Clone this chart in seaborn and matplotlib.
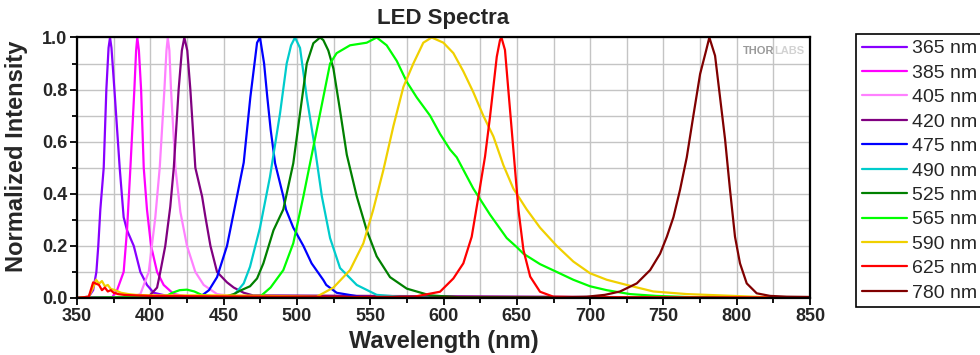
import matplotlib
matplotlib.use("Agg")
import matplotlib.pyplot as plt
from matplotlib.ticker import MultipleLocator, FormatStrFormatter
import numpy as np
import pandas as pd
import seaborn as sns

# ---------------- data ----------------
led_labels = ["365 nm", "385 nm", "405 nm", "420 nm", "475 nm", "490 nm",
              "525 nm", "565 nm", "590 nm", "625 nm", "780 nm"]
led_colors = ["#8800FF", "#FF00FF", "#FF80FF", "#800080", "#0000FF", "#00CCCC",
              "#008000", "#00FF00", "#F0D000", "#FF0000", "#800000"]

wl_365 = [350, 358, 361, 363.2, 364.5, 365.9, 368.2, 370, 371.5, 372.5, 373.5, 375.5, 379.1, 381.8, 384.1, 388.7, 393.2, 397.7, 402.3, 410, 430, 850]
in_365 = [0, 0.005, 0.03, 0.1, 0.2, 0.34, 0.5, 0.8, 0.96, 1.0, 0.96, 0.8, 0.5, 0.31, 0.26, 0.2, 0.1, 0.05, 0.02, 0.01, 0.003, 0]

wl_385 = [350, 374, 377.3, 381.8, 384.1, 386.4, 389.1, 390.3, 391.1, 392.2, 393.7, 395.5, 397.7, 400.5, 404.6, 409.1, 416, 425, 440, 850]
in_385 = [0, 0.003, 0.03, 0.1, 0.26, 0.5, 0.8, 0.95, 1.0, 0.95, 0.8, 0.5, 0.34, 0.2, 0.1, 0.05, 0.015, 0.006, 0.003, 0]

wl_405 = [350, 388, 393.2, 398.9, 403.4, 406.4, 409.6, 411, 411.9, 413, 414.1, 417.1, 420.5, 425, 430.7, 436.4, 445.5, 455, 850]
in_405 = [0, 0.005, 0.015, 0.1, 0.31, 0.5, 0.8, 0.95, 1.0, 0.95, 0.8, 0.5, 0.33, 0.2, 0.1, 0.05, 0.015, 0.008, 0]

wl_420 = [350, 395, 398.9, 404.6, 406.8, 410.2, 413.6, 416, 419.3, 421.5, 423.2, 425.2, 427.3, 430.7, 435.3, 437.6, 441, 445.5, 452.3, 456.9, 463.7, 470, 850]
in_420 = [0, 0.002, 0.005, 0.04, 0.1, 0.2, 0.35, 0.5, 0.8, 0.95, 1.0, 0.95, 0.8, 0.5, 0.39, 0.31, 0.2, 0.1, 0.06, 0.04, 0.02, 0.01, 0]

wl_475 = [350, 430, 434.1, 440, 445.5, 452.3, 459.1, 463.7, 468.2, 472.8, 474.8, 477.6, 479.8, 482.1, 485.1, 490.7, 492.5, 497.5, 504.4, 510, 518, 520, 527.1, 543, 560, 850]
in_475 = [0, 0.002, 0.005, 0.03, 0.08, 0.2, 0.39, 0.52, 0.77, 0.98, 1.0, 0.9, 0.77, 0.645, 0.517, 0.39, 0.34, 0.27, 0.2, 0.133, 0.069, 0.05, 0.02, 0.005, 0.002, 0]

wl_490 = [350, 445, 456.9, 463.7, 468, 474.8, 481.6, 488.5, 493, 496, 498.7, 502.1, 506.7, 512.4, 517, 522.6, 529.4, 540.8, 554.4, 570, 600, 850]
in_490 = [0, 0.002, 0.01, 0.056, 0.12, 0.27, 0.465, 0.71, 0.9, 0.97, 1.0, 0.96, 0.77, 0.57, 0.39, 0.23, 0.115, 0.05, 0.012, 0.005, 0.002, 0]

wl_525 = [350, 450, 456.9, 462, 468, 472.8, 477.1, 484, 490.7, 497.5, 502.1, 506.7, 511.2, 515.8, 518, 521.4, 524.9, 529.4, 534, 540.8, 547.6, 554.4, 563.5, 574.9, 590.8, 610, 850]
in_525 = [0, 0.003, 0.015, 0.03, 0.045, 0.075, 0.133, 0.26, 0.34, 0.517, 0.709, 0.9, 0.978, 1.0, 0.99, 0.95, 0.88, 0.72, 0.55, 0.39, 0.26, 0.16, 0.08, 0.036, 0.01, 0.003, 0]

wl_565 = [350, 410, 415, 420, 425, 430, 435, 445, 474.8, 482, 490.7, 497.5, 504.4, 511.2, 516.9, 522.6, 527.1, 536.2, 547.6, 554.4, 561.2, 568.1, 574.9, 581.7, 590.8, 597.6, 604.4, 609, 620.3, 631.7, 643.1, 650, 654.5, 665.8, 677.2, 688.5, 699.9, 711.3, 727.2, 745, 770, 850]
in_565 = [0, 0.005, 0.02, 0.03, 0.032, 0.025, 0.012, 0.005, 0.005, 0.04, 0.107, 0.21, 0.39, 0.58, 0.74, 0.9, 0.94, 0.97, 0.98, 1.0, 0.97, 0.91, 0.83, 0.77, 0.70, 0.63, 0.57, 0.54, 0.42, 0.32, 0.23, 0.195, 0.17, 0.13, 0.10, 0.07, 0.045, 0.03, 0.015, 0.008, 0.003, 0]

wl_590 = [350, 358, 361, 363, 365, 367, 369, 371, 373, 376, 380, 385, 390, 400, 420, 450, 480, 500, 513.5, 524.9, 536.2, 545.3, 552.1, 558.9, 565.8, 572.6, 579.4, 586.2, 591.9, 599.9, 606.7, 613.5, 620.3, 627.1, 634, 640.8, 647.6, 656.7, 665.8, 677.2, 688.5, 699.9, 711.3, 725, 743.1, 765.9, 788.6, 811.3, 830, 850]
in_590 = [0, 0.005, 0.04, 0.07, 0.055, 0.065, 0.045, 0.05, 0.035, 0.03, 0.02, 0.015, 0.012, 0.01, 0.01, 0.01, 0.008, 0.006, 0.005, 0.04, 0.107, 0.21, 0.34, 0.49, 0.66, 0.81, 0.90, 0.98, 1.0, 0.98, 0.94, 0.87, 0.79, 0.70, 0.62, 0.51, 0.42, 0.34, 0.27, 0.20, 0.14, 0.095, 0.07, 0.05, 0.025, 0.015, 0.01, 0.005, 0.002, 0]

wl_625 = [350, 358, 361, 363, 365, 367, 369, 371, 373, 375, 378, 382, 390, 400, 450, 500, 550, 580, 597.6, 606.7, 613.5, 619.2, 623.8, 628.3, 631.7, 634, 636.3, 638.5, 639.5, 641.9, 644.2, 646.5, 648.8, 651.1, 654.5, 659.1, 665.8, 674.9, 700, 850]
in_625 = [0, 0.005, 0.06, 0.055, 0.05, 0.03, 0.04, 0.025, 0.03, 0.02, 0.015, 0.012, 0.01, 0.008, 0.006, 0.005, 0.004, 0.005, 0.024, 0.075, 0.133, 0.235, 0.389, 0.543, 0.696, 0.811, 0.926, 0.99, 1.0, 0.952, 0.798, 0.645, 0.491, 0.338, 0.184, 0.082, 0.024, 0.005, 0.003, 0.002]

wl_780 = [350, 680, 697.8, 710, 720.4, 731.8, 740.9, 747.7, 752.3, 756.8, 761.3, 765.9, 770.4, 775, 779.1, 781.3, 785.2, 788.6, 792, 795.4, 798.8, 802.2, 806.8, 813.6, 822.7, 834.1, 850]
in_780 = [0, 0.002, 0.005, 0.012, 0.025, 0.056, 0.107, 0.17, 0.235, 0.31, 0.415, 0.54, 0.70, 0.86, 0.95, 1.0, 0.93, 0.77, 0.61, 0.415, 0.235, 0.133, 0.056, 0.018, 0.008, 0.005, 0.004]

series_wl = [wl_365, wl_385, wl_405, wl_420, wl_475, wl_490, wl_525, wl_565, wl_590, wl_625, wl_780]
series_in = [in_365, in_385, in_405, in_420, in_475, in_490, in_525, in_565, in_590, in_625, in_780]

frames = [pd.DataFrame({"Wavelength": w, "Intensity": v, "LED": lab})
          for w, v, lab in zip(series_wl, series_in, led_labels)]
df = pd.concat(frames, ignore_index=True)
palette = dict(zip(led_labels, led_colors))

# ---------------- style ----------------
sns.set_style("white")
plt.rcParams["font.family"] = ["Liberation Sans", "DejaVu Sans"]
plt.rcParams["font.weight"] = "bold"

fig = plt.figure(figsize=(9.8, 3.55), dpi=100)
ax = fig.add_axes([0.0786, 0.1606, 0.748, 0.7338])

sns.lineplot(data=df, x="Wavelength", y="Intensity", hue="LED", hue_order=led_labels,
             palette=palette, sort=False, estimator=None, linewidth=1.6,
             legend=False, ax=ax)

ax.set_xlim(350, 850)
ax.set_ylim(0, 1.0)
ax.xaxis.set_major_locator(MultipleLocator(50))
ax.xaxis.set_minor_locator(MultipleLocator(25))
ax.yaxis.set_major_locator(MultipleLocator(0.2))
ax.yaxis.set_minor_locator(MultipleLocator(0.1))
ax.yaxis.set_major_formatter(FormatStrFormatter("%.1f"))
ax.grid(which="both", color="#c4c4c4", linewidth=1.0)
ax.set_axisbelow(True)
ax.tick_params(which="both", direction="out", color="black", width=1.3,
               bottom=True, left=True)
ax.tick_params(which="major", length=5, labelsize=13, pad=2)
ax.tick_params(which="minor", length=3.5)
for s in ax.spines.values():
    s.set_visible(True)
    s.set_color("black")
    s.set_linewidth(1.6)

ax.set_title("LED Spectra", fontsize=16, fontweight="bold", pad=10)
ax.set_xlabel("Wavelength (nm)", fontsize=17, fontweight="bold", labelpad=4)
ax.set_ylabel("Normalized Intensity", fontsize=17, fontweight="bold")
ax.yaxis.set_label_coords(-0.067, 0.545)

# logo
ax.text(825.4, 0.948, "THOR", ha="right", va="center", fontsize=8,
        color="#9a9a9a", fontweight="bold")
ax.text(825.4, 0.948, "LABS", ha="left", va="center", fontsize=8,
        color="#d2d2d2", fontweight="bold")

leg = ax.legend(ax.get_lines(), led_labels, loc="upper left",
                bbox_to_anchor=(856 / 980, 1 - 34 / 355),
                bbox_transform=fig.transFigure, borderaxespad=0,
                frameon=True, fancybox=False, edgecolor="black", framealpha=1,
                prop={"size": 14, "weight": "normal"}, handlelength=2.3,
                handletextpad=0.3, labelspacing=0.35, borderpad=0.3)
leg.get_frame().set_linewidth(1.2)

fig.savefig("out.png", dpi=100)
